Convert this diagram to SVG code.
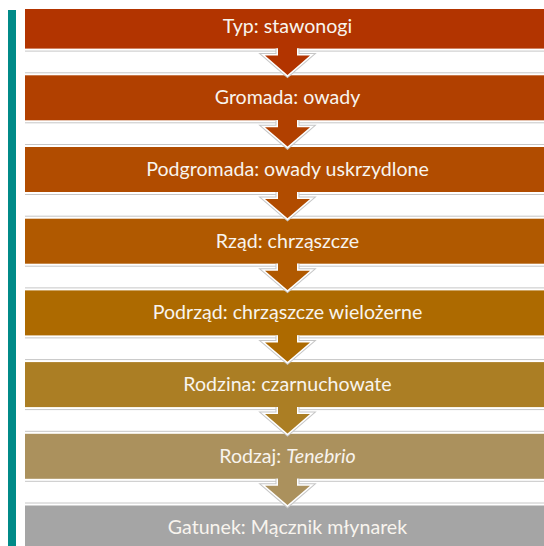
<svg xmlns="http://www.w3.org/2000/svg" width="544" height="546" viewBox="0 0 544 546">
<defs>
<style>
.sep{stroke:#C6C6C6;stroke-width:1}
.ao{fill:none;stroke:#C6C6C6;stroke-width:5;stroke-linejoin:miter}
.ai{fill:none;stroke:#FFFFFF;stroke-width:3;stroke-linejoin:miter}
.t{font-family:Lato,"Open Sans","Liberation Sans",sans-serif;font-size:19.6px;fill:#F8F4EE;text-anchor:middle}
</style>
<clipPath id="clip"><rect x="25" y="9" width="519" height="537"/></clipPath>
</defs>
<rect width="544" height="546" fill="#FFFFFF"/>
<rect id="bar" x="8" y="10" width="8" height="536" fill="#008A88"/>
<g clip-path="url(#clip)">
<g id="separators">
<line class="sep" x1="25" y1="51.1" x2="544" y2="51.1"/>
<line class="sep" x1="25" y1="72.8" x2="544" y2="72.8"/>
<line class="sep" x1="25" y1="122.8" x2="544" y2="122.8"/>
<line class="sep" x1="25" y1="144.5" x2="544" y2="144.5"/>
<line class="sep" x1="25" y1="194.5" x2="544" y2="194.5"/>
<line class="sep" x1="25" y1="216.2" x2="544" y2="216.2"/>
<line class="sep" x1="25" y1="266.2" x2="544" y2="266.2"/>
<line class="sep" x1="25" y1="287.9" x2="544" y2="287.9"/>
<line class="sep" x1="25" y1="337.9" x2="544" y2="337.9"/>
<line class="sep" x1="25" y1="359.6" x2="544" y2="359.6"/>
<line class="sep" x1="25" y1="409.6" x2="544" y2="409.6"/>
<line class="sep" x1="25" y1="431.3" x2="544" y2="431.3"/>
<line class="sep" x1="25" y1="481.3" x2="544" y2="481.3"/>
<line class="sep" x1="25" y1="503.0" x2="544" y2="503.0"/>
</g>
<g id="n1"><rect x="25" y="3.6" width="530" height="45" fill="#B23400"/><text class="t" x="287.5" y="32.5">Typ: stawonogi</text></g>
<g id="n2"><rect x="25" y="75.3" width="530" height="45" fill="#B14000"/><text class="t" x="287.5" y="104.2">Gromada: owady</text></g>
<g id="n3"><rect x="25" y="147" width="530" height="45" fill="#B14C00"/><text class="t" x="287.5" y="175.9">Podgromada: owady uskrzydlone</text></g>
<g id="n4"><rect x="25" y="218.7" width="530" height="45" fill="#B05900"/><text class="t" x="287.5" y="247.6">Rząd: chrząszcze</text></g>
<g id="n5"><rect x="25" y="290.4" width="530" height="45" fill="#AD6A00"/><text class="t" x="287.5" y="319.3">Podrząd: chrząszcze wielożerne</text></g>
<g id="n6"><rect x="25" y="362.1" width="530" height="45" fill="#AB7E24"/><text class="t" x="287.5" y="391">Rodzina: czarnuchowate</text></g>
<g id="n7"><rect x="25" y="433.8" width="530" height="45" fill="#AB915D"/><text class="t" x="287.5" y="462.7">Rodzaj: <tspan font-style="italic">Tenebrio</tspan></text></g>
<g id="n8"><rect x="25" y="505.5" width="530" height="45" fill="#A5A5A5"/><text class="t" x="287.5" y="534.4">Gatunek: Mącznik młynarek</text></g>
<g id="connectors">
<g id="a1"><path class="ao" d="M278 48.6V55.6H265L287.5 74.9L310 55.6H297V48.6"/><path class="ai" d="M278 48.6V55.6H265L287.5 74.9L310 55.6H297V48.6"/><path fill="#B23400" d="M278 46V55.6H265L287.5 74.9L310 55.6H297V46Z"/></g>
<g id="a2"><path class="ao" d="M278 120.3V127.3H265L287.5 146.6L310 127.3H297V120.3"/><path class="ai" d="M278 120.3V127.3H265L287.5 146.6L310 127.3H297V120.3"/><path fill="#B14000" d="M278 118V127.3H265L287.5 146.6L310 127.3H297V118Z"/></g>
<g id="a3"><path class="ao" d="M278 192V199H265L287.5 218.3L310 199H297V192"/><path class="ai" d="M278 192V199H265L287.5 218.3L310 199H297V192"/><path fill="#B14C00" d="M278 189.5V199H265L287.5 218.3L310 199H297V189.5Z"/></g>
<g id="a4"><path class="ao" d="M278 263.7V270.7H265L287.5 290L310 270.7H297V263.7"/><path class="ai" d="M278 263.7V270.7H265L287.5 290L310 270.7H297V263.7"/><path fill="#B05900" d="M278 261V270.7H265L287.5 290L310 270.7H297V261Z"/></g>
<g id="a5"><path class="ao" d="M278 335.4V342.4H265L287.5 361.7L310 342.4H297V335.4"/><path class="ai" d="M278 335.4V342.4H265L287.5 361.7L310 342.4H297V335.4"/><path fill="#AD6A00" d="M278 333V342.4H265L287.5 361.7L310 342.4H297V333Z"/></g>
<g id="a6"><path class="ao" d="M278 407.1V414.1H265L287.5 433.4L310 414.1H297V407.1"/><path class="ai" d="M278 407.1V414.1H265L287.5 433.4L310 414.1H297V407.1"/><path fill="#AB7E24" d="M278 404.5V414.1H265L287.5 433.4L310 414.1H297V404.5Z"/></g>
<g id="a7"><path class="ao" d="M278 478.8V485.8H265L287.5 505.1L310 485.8H297V478.8"/><path class="ai" d="M278 478.8V485.8H265L287.5 505.1L310 485.8H297V478.8"/><path fill="#AB915D" d="M278 476V485.8H265L287.5 505.1L310 485.8H297V476Z"/></g>
</g>
</g>
</svg>
